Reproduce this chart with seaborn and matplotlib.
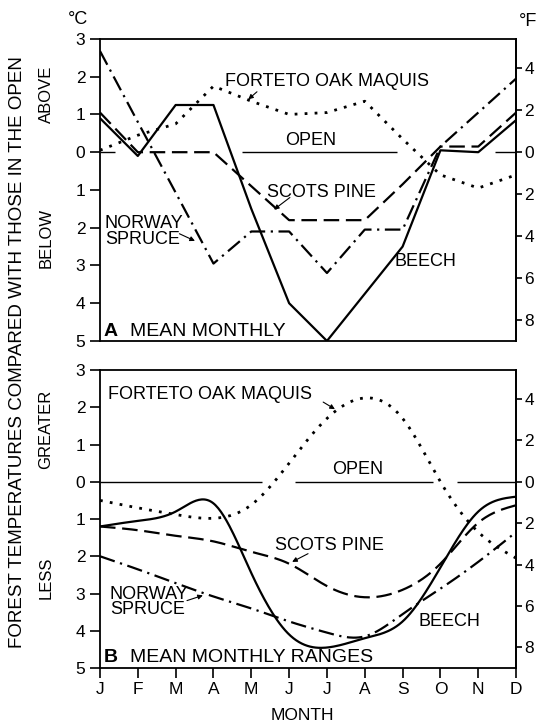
import numpy as np
import pandas as pd
import matplotlib
matplotlib.use("Agg")
import matplotlib.pyplot as plt
import seaborn as sns

# month axis
months = ["J", "F", "M", "A", "M", "J", "J", "A", "S", "O", "N", "D"]

# A: mean monthly difference forest - open (deg C)
beech_mean = [0.9, -0.1, 1.25, 1.25, -1.5, -4.0, -5.0, -3.75, -2.5, 0.05, 0.0, 0.85]
scots_mean = [1.05, 0.0, 0.0, 0.0, -0.9, -1.8, -1.8, -1.8, -0.85, 0.15, 0.15, 1.05]
spruce_mean = [2.68, 0.8, -1.07, -2.95, -2.1, -2.1, -3.2, -2.05, -2.05, 0.15, 1.05, 1.95]
forteto_mean = [0.05, 0.45, 0.75, 1.75, 1.35, 1.0, 1.05, 1.35, 0.35, -0.6, -0.95, -0.6]

# B: mean monthly ranges difference forest - open (deg C)
beech_range = [-1.2, -1.05, -0.8, -0.58, -2.45, -4.1, -4.45, -4.2, -3.75, -2.3, -0.8, -0.4]
scots_range = [-1.2, -1.3, -1.45, -1.6, -1.88, -2.2, -2.8, -3.1, -2.9, -2.2, -1.1, -0.63]
spruce_range = [-2.0, -2.35, -2.72, -3.08, -3.4, -3.75, -4.05, -4.15, -3.55, -2.87, -2.15, -1.35]
forteto_range = [-0.5, -0.7, -0.88, -0.98, -0.62, 0.5, 1.7, 2.25, 1.7, 0.0, -1.35, -2.05]

# "open" reference line pieces (month index from, to)
open_a = [(0, 0.4), (3.75, 7.85), (10.45, 11)]
open_b = [(0, 4.28), (5.15, 8.8), (9.45, 11)]

c_ticks = [3, 2, 1, 0, -1, -2, -3, -4, -5]
c_labels = ["3", "2", "1", "0", "1", "2", "3", "4", "5"]
f_ticks = [4, 2, 0, -2, -4, -6, -8]
f_labels = ["4", "2", "0", "2", "4", "6", "8"]


def smooth(y, n=300):
    # natural cubic spline through the monthly readings, for drawing only
    y = np.asarray(y, float)
    k = len(y)
    A = np.zeros((k, k))
    r = np.zeros(k)
    A[0, 0] = A[-1, -1] = 1
    for i in range(1, k - 1):
        A[i, i - 1:i + 2] = [1, 4, 1]
        r[i] = 6 * (y[i + 1] - 2 * y[i] + y[i - 1])
    m = np.linalg.solve(A, r)
    xs = np.linspace(0, k - 1, n)
    i = np.minimum(xs.astype(int), k - 2)
    t = xs - i
    ys = ((1 - t) * y[i] + t * y[i + 1]
          + ((1 - t) ** 3 - (1 - t)) * m[i] / 6 + (t ** 3 - t) * m[i + 1] / 6)
    return xs, ys


def long_df(series, smooth_it):
    rows = []
    for name, vals in series.items():
        if smooth_it:
            xs, ys = smooth(vals)
        else:
            xs, ys = np.arange(len(vals)), np.asarray(vals)
        rows.append(pd.DataFrame({"month": xs, "temp": ys, "series": name}))
    return pd.concat(rows, ignore_index=True)


df_a = long_df({"beech": beech_mean, "scots": scots_mean,
                "spruce": spruce_mean, "forteto": forteto_mean}, False)
df_b = long_df({"beech": beech_range, "scots": scots_range,
                "spruce": spruce_range, "forteto": forteto_range}, True)

sns.set_style("ticks")
plt.rcParams["font.family"] = ["Liberation Sans", "DejaVu Sans"]
plt.rcParams["axes.linewidth"] = 1.3
for key in ["text.color", "axes.labelcolor", "xtick.color", "ytick.color", "axes.edgecolor"]:
    plt.rcParams[key] = "black"

dash_map = {"beech": "", "scots": (7, 3), "spruce": (7, 2.5, 1, 2.5), "forteto": (1, 2.6)}
size_map = {"beech": 1.6, "scots": 1.6, "spruce": 1.6, "forteto": 2.0}

fig = plt.figure(figsize=(5.39, 7.25), dpi=100)
ax_a = fig.add_axes([0.1855, 0.5297, 0.772, 0.4166])
ax_b = fig.add_axes([0.1855, 0.0786, 0.772, 0.411])

fs = 13
tfs = 12.5
for ax, df, spans in [(ax_a, df_a, open_a), (ax_b, df_b, open_b)]:
    sns.lineplot(data=df, x="month", y="temp", style="series", size="series",
                 dashes=dash_map, sizes=size_map, color="black",
                 legend=False, sort=False, estimator=None, ax=ax)
    for s0, s1 in spans:
        ax.hlines(0, s0, s1, colors="black", lw=1.0)
    ax.set_xlim(0, 11)
    ax.set_ylim(-5, 3)
    ax.set_yticks(c_ticks)
    ax.set_yticklabels(c_labels)
    ax.set_xlabel("")
    ax.set_ylabel("")
    ax.tick_params(axis="y", direction="out", length=7, width=1.2, labelsize=tfs)
    sec = ax.secondary_yaxis("right", functions=(lambda c: c * 9 / 5, lambda f: f * 5 / 9))
    sec.set_yticks(f_ticks)
    sec.set_yticklabels(f_labels)
    sec.tick_params(direction="out", length=4, width=1.2, labelsize=tfs, pad=2)
    for sp in ax.spines.values():
        sp.set_visible(True)

ax_a.set_xticks(range(12))
ax_a.tick_params(axis="x", length=0, labelbottom=False)
ax_b.set_xticks(range(12))
ax_b.set_xticklabels(months)
ax_b.tick_params(axis="x", direction="out", length=7, width=1.2, labelsize=tfs, pad=3)

arrow = dict(arrowstyle="-|>", lw=0.8, color="black", mutation_scale=7, shrinkA=0, shrinkB=0)

# panel A labels
ax_a.text(3.31, 1.88, "FORTETO OAK MAQUIS", fontsize=fs, va="center", ha="left")
ax_a.annotate("", xy=(3.92, 1.4), xytext=(4.15, 1.6), arrowprops=arrow)
ax_a.text(5.58, 0.3, "OPEN", fontsize=fs, va="center", ha="center")
ax_a.text(4.42, -1.07, "SCOTS PINE", fontsize=fs, va="center", ha="left")
ax_a.annotate("", xy=(4.6, -1.52), xytext=(5.02, -1.2), arrowprops=arrow)
ax_a.text(0.13, -2.1, "NORWAY\nSPRUCE", fontsize=fs, va="center", ha="left", linespacing=0.9)
ax_a.annotate("", xy=(2.51, -2.35), xytext=(2.1, -2.16), arrowprops=arrow)
ax_a.text(7.78, -2.9, "BEECH", fontsize=fs, va="center", ha="left")
ax_a.text(0.1, -4.76, "A", fontsize=fs + 1, fontweight="bold", va="center", ha="left")
ax_a.text(0.79, -4.76, "MEAN MONTHLY", fontsize=fs + 1, va="center", ha="left")

# panel B labels
ax_b.text(0.21, 2.35, "FORTETO OAK MAQUIS", fontsize=fs, va="center", ha="left")
ax_b.annotate("", xy=(6.21, 1.95), xytext=(5.9, 2.14), arrowprops=arrow)
ax_b.text(6.8, 0.32, "OPEN", fontsize=fs, va="center", ha="center")
ax_b.text(4.63, -1.7, "SCOTS PINE", fontsize=fs, va="center", ha="left")
ax_b.annotate("", xy=(5.08, -2.15), xytext=(5.5, -1.93), arrowprops=arrow)
ax_b.text(0.26, -3.23, "NORWAY\nSPRUCE", fontsize=fs, va="center", ha="left", linespacing=0.9)
ax_b.annotate("", xy=(2.72, -3.05), xytext=(2.3, -3.19), arrowprops=arrow)
ax_b.text(8.41, -3.75, "BEECH", fontsize=fs, va="center", ha="left")
ax_b.text(0.1, -4.73, "B", fontsize=fs + 1, fontweight="bold", va="center", ha="left")
ax_b.text(0.79, -4.73, "MEAN MONTHLY RANGES", fontsize=fs + 1, va="center", ha="left")

# outer labels
W, H = 539.0, 725.0
fig.text(78 / W, 1 - 20 / H, "°C", fontsize=fs, ha="center", va="center")
fig.text(528 / W, 1 - 21 / H, "°F", fontsize=fs, ha="center", va="center")
for txt, yp in [("ABOVE", 94), ("BELOW", 238), ("GREATER", 429), ("LESS", 578)]:
    fig.text(46 / W, 1 - yp / H, txt, fontsize=12, rotation=90, ha="center", va="center")
fig.text(18 / W, 1 - 352 / H, "FOREST TEMPERATURES COMPARED WITH THOSE IN THE OPEN",
         fontsize=13.5, rotation=90, ha="center", va="center")
fig.text(302 / W, 1 - 715 / H, "MONTH", fontsize=12.5, ha="center", va="center")

fig.savefig("out.png", dpi=100)
